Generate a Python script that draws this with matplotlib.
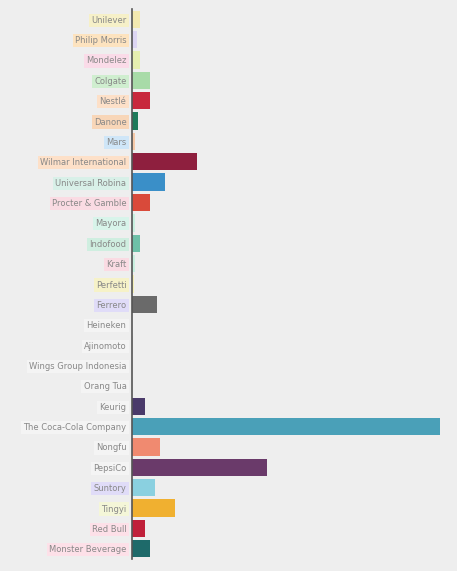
import matplotlib
matplotlib.use("Agg")
import matplotlib.pyplot as plt

brands = [
    "Unilever", "Philip Morris", "Mondelez", "Colgate", "Nestlé", "Danone",
    "Mars", "Wilmar International", "Universal Robina", "Procter & Gamble",
    "Mayora", "Indofood", "Kraft", "Perfetti", "Ferrero", "Heineken",
    "Ajinomoto", "Wings Group Indonesia", "Orang Tua", "Keurig",
    "The Coca-Cola Company", "Nongfu", "PepsiCo", "Suntory", "Tingyi",
    "Red Bull", "Monster Beverage",
]
counts = [8, 5, 8, 18, 18, 6, 3, 65, 33, 18, 3, 8, 3, 2, 25, 2, 1, 1, 1,
          13, 308, 28, 135, 23, 43, 13, 18]
bar_colors = [
    "#f3e9b0", "#ddd6f3", "#e6efb0", "#a8dba8", "#c8283c", "#1e7a5a",
    "#f6c9a8", "#8e1f3e", "#3a8fc8", "#d94a3a", "#c9f0e0", "#6ec0a8",
    "#c9f0e0", "#f3efb8", "#6a6a6a", "#f0f0f0", "#e0e0e0", "#e6e6e6",
    "#e6e6e6", "#4a3a6a", "#4aa0b8", "#f08a70", "#6a3a6a", "#8ad0e0",
    "#f0b030", "#c0203a", "#1e6a6a",
]
label_colors = [
    "#f6f0c8", "#fde3bf", "#fadbe8", "#cfeecf", "#fde0c8", "#f8d6b8",
    "#cfe6f8", "#fde0c8", "#d8f0e8", "#fadbe3", "#d8f4ea", "#cfeee0",
    "#fadbe3", "#f6f2c8", "#e0dcf8", "#f4f4f4", "#f4f4f4", "#f4f4f4",
    "#f4f4f4", "#f4f4f4", "#f4f4f4", "#f4f4f4", "#f4f4f4", "#e0dcf8",
    "#f4f6d8", "#fde0e8", "#fde0e8",
]

fig = plt.figure(figsize=(4.57, 5.71), dpi=100)
fig.patch.set_facecolor("#eeeeee")
ax = fig.add_axes([132 / 457, 12 / 571, 318 / 457, 550 / 571])
ax.set_facecolor("#eeeeee")

y = list(range(len(brands)))
ax.barh(y, counts, color=bar_colors, height=0.85)
ax.set_ylim(len(brands) - 0.5, -0.5)
ax.set_xlim(0, 318)
ax.set_yticks(y)
ax.set_yticklabels(brands, fontsize=6, color="#888888")
for lbl, c in zip(ax.get_yticklabels(), label_colors):
    lbl.set_bbox(dict(facecolor=c, edgecolor="none", pad=1.5))
ax.tick_params(axis="y", length=0, pad=4)
ax.set_xticks([])
for s in ["top", "right", "bottom"]:
    ax.spines[s].set_visible(False)
ax.spines["left"].set_color("#555555")
ax.spines["left"].set_linewidth(1.2)

fig.savefig("out.png", dpi=100, facecolor=fig.get_facecolor())
